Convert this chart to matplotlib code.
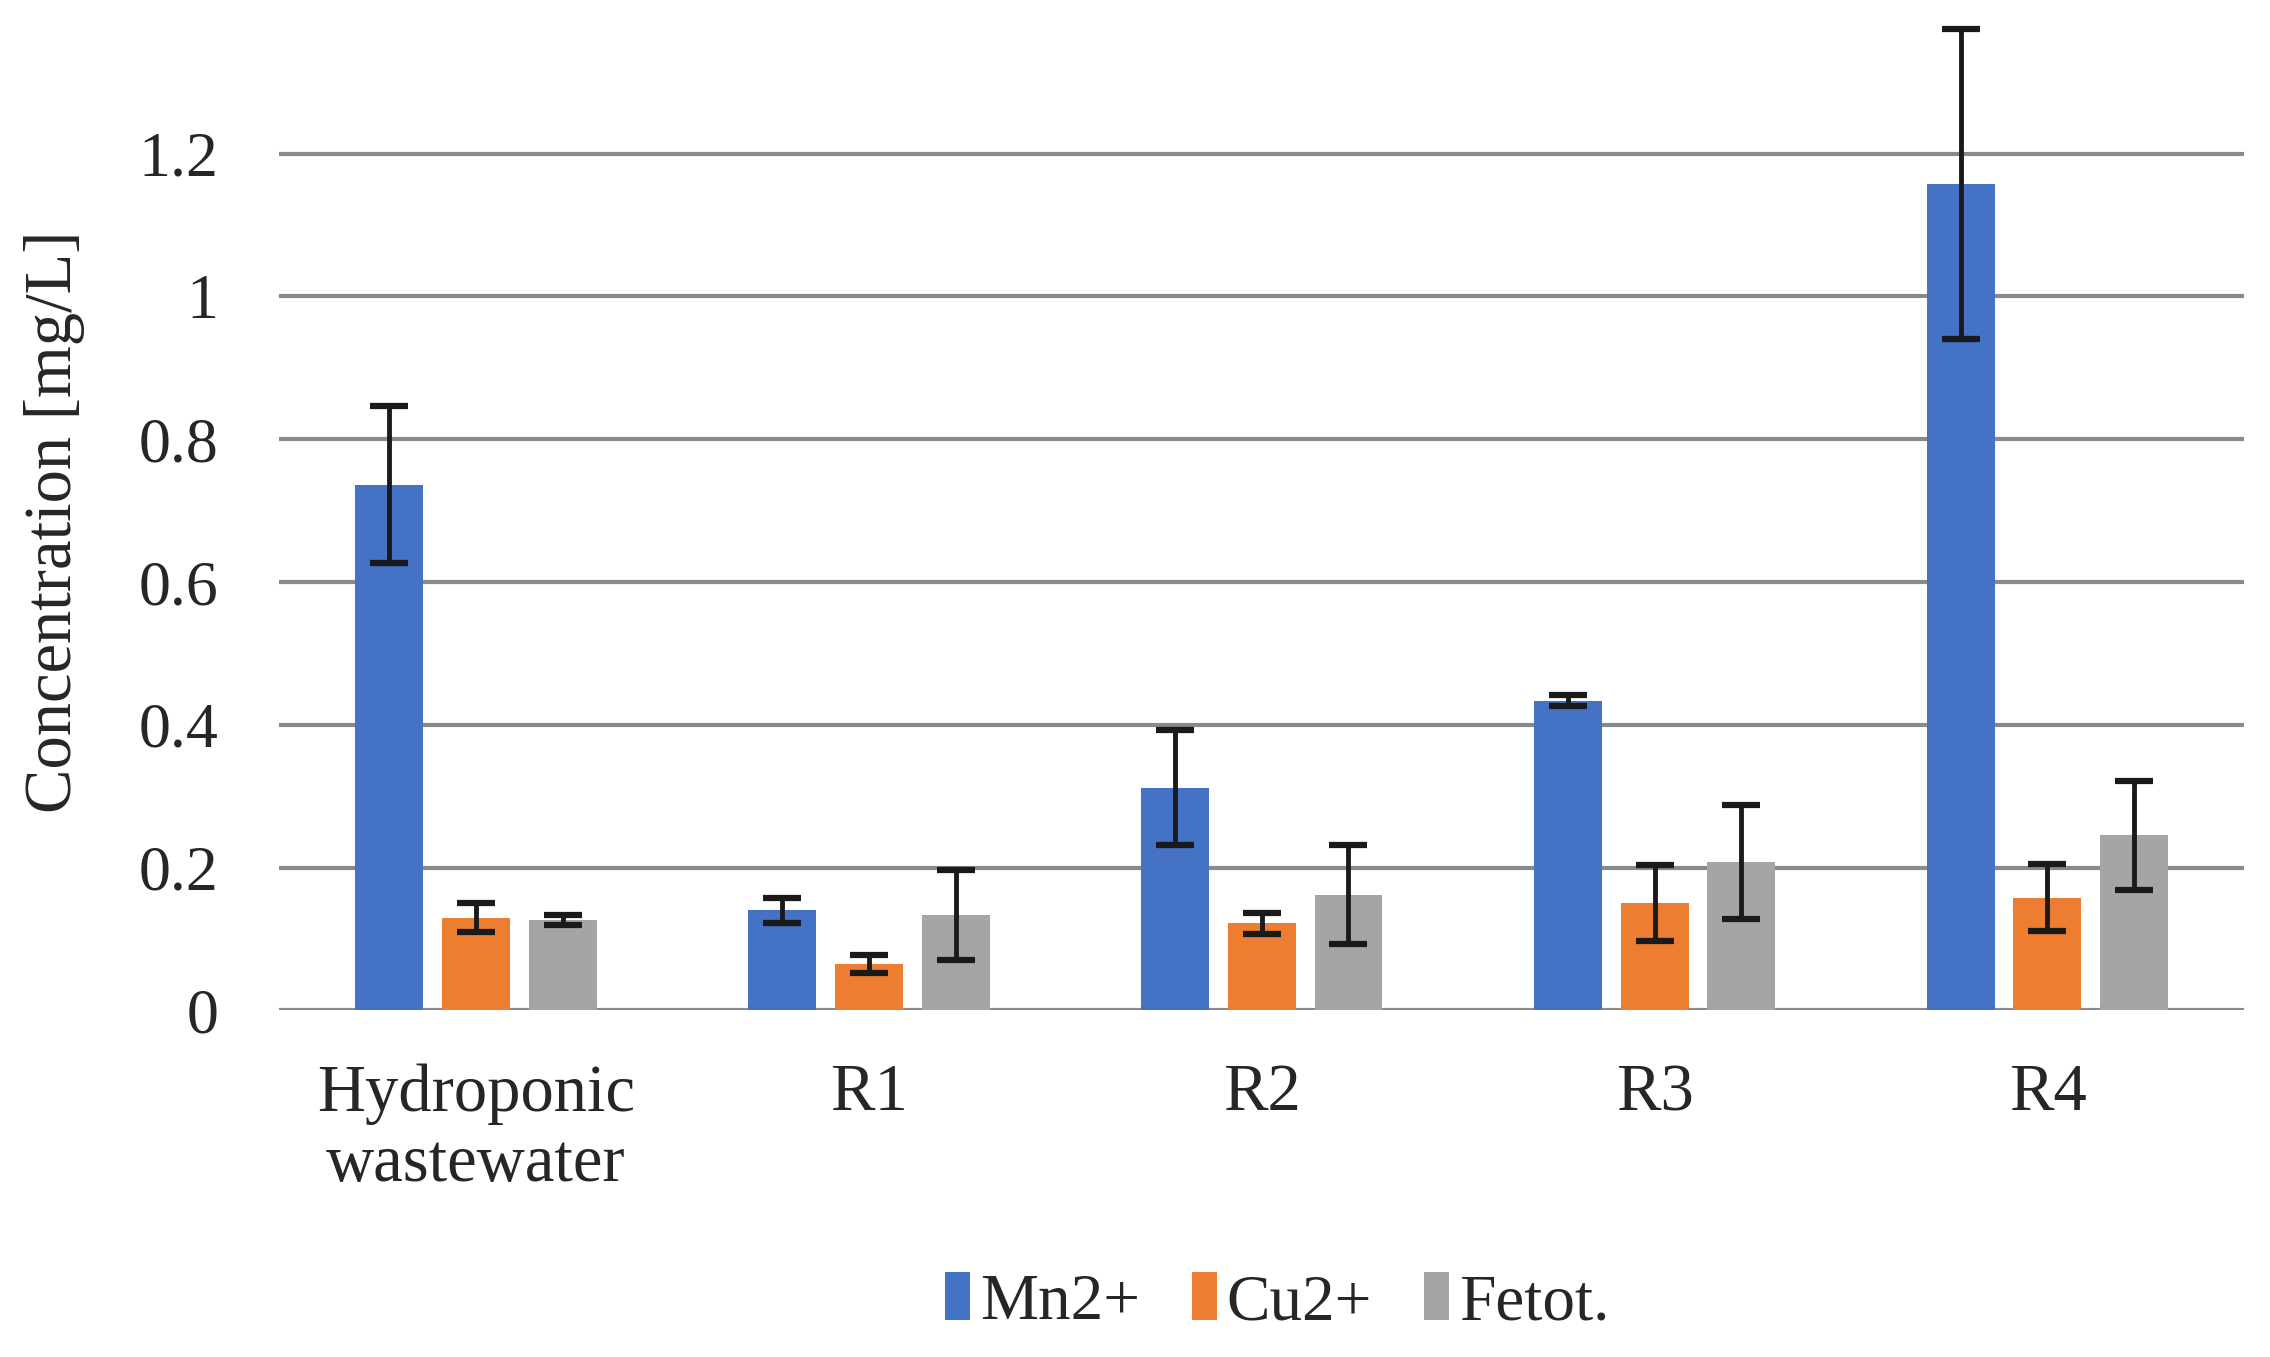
import matplotlib
matplotlib.use("Agg")
import matplotlib.pyplot as plt
import numpy as np

categories = ["Hydroponic\nwastewater", "R1", "R2", "R3", "R4"]
series = ["Mn2+", "Cu2+", "Fetot."]
mn = [0.736, 0.140, 0.312, 0.434, 1.158]
mn_err = [0.110, 0.018, 0.081, 0.008, 0.217]
cu = [0.130, 0.065, 0.122, 0.150, 0.158]
cu_err = [0.020, 0.012, 0.015, 0.053, 0.047]
fe = [0.126, 0.134, 0.162, 0.208, 0.245]
fe_err = [0.007, 0.063, 0.069, 0.080, 0.077]
yticks = [0, 0.2, 0.4, 0.6, 0.8, 1, 1.2]
ytick_labels = ["0", "0.2", "0.4", "0.6", "0.8", "1", "1.2"]

colors = ["#4472C4", "#ED7D31", "#A5A5A5"]
values = [mn, cu, fe]
errors = [mn_err, cu_err, fe_err]

plt.rcParams['font.family'] = ['Liberation Serif', 'DejaVu Serif']
fig = plt.figure(figsize=(22.7, 13.57), dpi=100)
ax = fig.add_axes([0.1231, 0.2554, 0.9885 - 0.1231, 0.992 - 0.2554])

x = np.arange(len(categories))
step = 0.221
width = 0.173
for i, (vals, errs, c, name) in enumerate(zip(values, errors, colors, series)):
    ax.bar(x + (i - 1) * step, vals, width, color=c, label=name, zorder=2,
           yerr=errs, capsize=14,
           error_kw=dict(ecolor="#1a1a1a", elinewidth=3.5, capthick=4.5, zorder=3))

ax.set_xlim(-0.5, len(categories) - 0.5)
ax.set_ylim(0, 1.4)
ax.set_yticks(yticks)
ax.set_yticklabels(ytick_labels)
ax.set_xticks(x)
ax.set_xticklabels(categories, linespacing=1.2)
for s in ax.spines.values():
    s.set_visible(False)
ax.grid(axis='y', color="#8a8a8a", linewidth=3, zorder=0)
ax.tick_params(axis='x', length=0, labelsize=48, colors="#262626", pad=38)
ax.tick_params(axis='y', length=0, labelsize=46, colors="#262626", pad=44)

ax.set_ylabel("Concentration [mg/L]", fontsize=48, color="#262626")
ax.yaxis.set_label_coords(-0.099, 0.489)

leg = fig.legend(loc="center", bbox_to_anchor=(0.5627, 0.04), ncol=3, frameon=False,
                 fontsize=47, handlelength=0.38, handleheight=0.75, handletextpad=0.15,
                 columnspacing=0.8)
for t in leg.get_texts():
    t.set_color("#262626")

fig.savefig("out.png", dpi=100)
